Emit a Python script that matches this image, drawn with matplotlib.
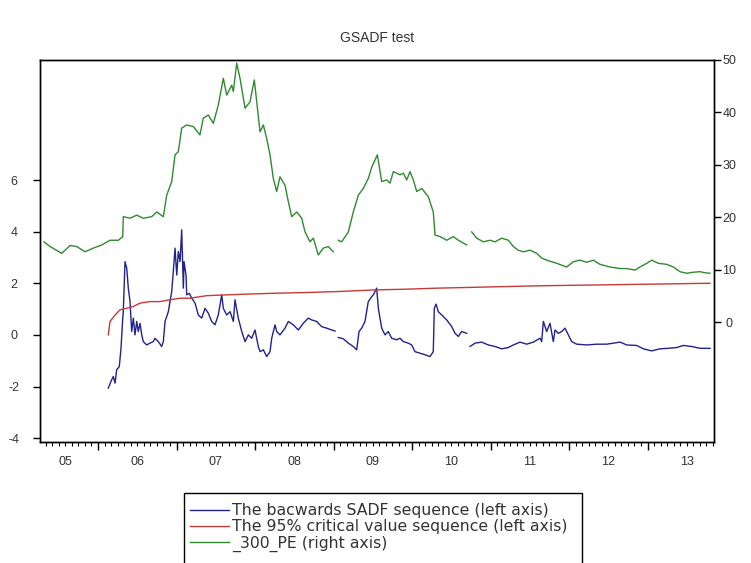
import numpy as np
import matplotlib
matplotlib.use("Agg")
import matplotlib.pyplot as plt
from matplotlib.patches import Rectangle
from matplotlib.ticker import FixedLocator, MultipleLocator, NullFormatter

plt.rcParams["font.family"] = ["Liberation Sans", "DejaVu Sans"]
plt.rcParams["axes.unicode_minus"] = False

nan = np.nan

# backwards SADF sequence (left axis), time in decimal years
bsadf_t = [2006.131, 2006.174, 2006.195, 2006.217, 2006.238, 2006.271, 2006.293, 2006.315,
           2006.322, 2006.344, 2006.366, 2006.386, 2006.408, 2006.429, 2006.450, 2006.471,
           2006.493, 2006.513, 2006.535, 2006.557, 2006.577, 2006.620, 2006.662, 2006.704,
           2006.726, 2006.768, 2006.811, 2006.832, 2006.854, 2006.896, 2006.939, 2006.959,
           2006.981, 2007.003, 2007.023, 2007.045, 2007.066, 2007.087, 2007.096, 2007.121,
           2007.130, 2007.163, 2007.194, 2007.236, 2007.278, 2007.321, 2007.363, 2007.405,
           2007.448, 2007.490, 2007.532, 2007.576, 2007.596, 2007.640, 2007.682, 2007.724,
           2007.745, 2007.787, 2007.831, 2007.873, 2007.915, 2007.958, 2008.000, 2008.042,
           2008.064, 2008.106, 2008.149, 2008.191, 2008.213, 2008.255, 2008.276, 2008.318,
           2008.382, 2008.424, 2008.488, 2008.552, 2008.615, 2008.679, 2008.722, 2008.785,
           2008.849, 2008.913, 2008.977, 2009.019, 2009.040, 2009.061, 2009.125, 2009.189,
           2009.252, 2009.295, 2009.325, 2009.359, 2009.401, 2009.443, 2009.486, 2009.507,
           2009.550, 2009.571, 2009.614, 2009.656, 2009.698, 2009.741, 2009.805, 2009.847,
           2009.890, 2009.953, 2009.996, 2010.038, 2010.102, 2010.166, 2010.229, 2010.271,
           2010.284, 2010.306, 2010.335, 2010.378, 2010.442, 2010.506, 2010.548, 2010.590,
           2010.633, 2010.697, 2010.718, 2010.739, 2010.803, 2010.888, 2010.972, 2011.057,
           2011.143, 2011.227, 2011.291, 2011.376, 2011.461, 2011.545, 2011.631, 2011.652,
           2011.673, 2011.716, 2011.758, 2011.800, 2011.822, 2011.864, 2011.907, 2011.949,
           2011.991, 2012.034, 2012.098, 2012.226, 2012.353, 2012.480, 2012.650, 2012.735,
           2012.862, 2012.947, 2013.053, 2013.159, 2013.265, 2013.372, 2013.456, 2013.563,
           2013.669, 2013.796]
bsadf = [-2.06, -1.74, -1.61, -1.87, -1.35, -1.23, -0.52, 0.65,
         0.90, 2.84, 2.58, 1.81, 1.29, 0.13, 0.65, 0.00,
         0.52, 0.13, 0.45, 0.00, -0.26, -0.39, -0.32, -0.26,
         -0.13, -0.26, -0.45, -0.26, 0.52, 0.90, 1.68, 2.45,
         3.36, 2.32, 3.23, 2.84, 4.07, 1.81, 2.84, 2.32,
         1.55, 1.61, 1.42, 1.23, 0.77, 0.65, 1.03, 0.84,
         0.52, 0.39, 0.77, 1.55, 1.03, 0.77, 0.90, 0.52,
         1.36, 0.65, 0.13, -0.26, 0.00, -0.13, 0.19, -0.45,
         -0.65, -0.58, -0.84, -0.65, -0.13, 0.39, 0.13, 0.00,
         0.26, 0.52, 0.39, 0.19, 0.45, 0.65, 0.58, 0.52,
         0.32, 0.26, 0.19, 0.15, nan, -0.10, -0.15, -0.32,
         -0.45, -0.58, 0.13, 0.26, 0.52, 1.29, 1.48, 1.55,
         1.81, 1.03, 0.26, 0.00, 0.13, -0.13, -0.19, -0.13,
         -0.26, -0.32, -0.39, -0.65, -0.71, -0.77, -0.84, -0.65,
         1.03, 1.19, 0.90, 0.77, 0.58, 0.32, 0.06, -0.06,
         0.13, 0.06, nan, -0.45, -0.32, -0.28, -0.39, -0.45,
         -0.54, -0.49, -0.39, -0.28, -0.36, -0.28, -0.13, -0.26,
         0.52, 0.13, 0.45, -0.26, 0.19, 0.06, 0.13, 0.26,
         0.00, -0.26, -0.36, -0.39, -0.36, -0.36, -0.28, -0.39,
         -0.41, -0.54, -0.62, -0.54, -0.52, -0.49, -0.41, -0.45,
         -0.52, -0.52]

# 95% critical value sequence (left axis)
cv_t = [2006.131, 2006.153, 2006.217, 2006.280, 2006.366, 2006.450, 2006.535, 2006.662,
        2006.790, 2006.917, 2007.045, 2007.172, 2007.385, 2007.809, 2008.213, 2008.637,
        2009.057, 2009.503, 2009.911, 2010.315, 2010.739, 2011.159, 2011.589, 2012.013,
        2012.480, 2012.904, 2013.350, 2013.796]
cv95 = [0.00, 0.52, 0.77, 0.97, 1.03, 1.10, 1.23, 1.29,
        1.29, 1.36, 1.42, 1.42, 1.52, 1.57, 1.61, 1.64,
        1.68, 1.74, 1.77, 1.81, 1.84, 1.87, 1.90, 1.92,
        1.94, 1.96, 1.98, 2.00]

# _300_PE (right axis)
pe_t = [2005.312, 2005.389, 2005.538, 2005.643, 2005.729, 2005.834, 2005.940, 2006.047,
        2006.153, 2006.259, 2006.315, 2006.322, 2006.408, 2006.493, 2006.577, 2006.684,
        2006.748, 2006.832, 2006.875, 2006.939, 2006.981, 2007.023, 2007.066, 2007.130,
        2007.214, 2007.299, 2007.341, 2007.405, 2007.469, 2007.532, 2007.596, 2007.640,
        2007.703, 2007.724, 2007.767, 2007.809, 2007.873, 2007.936, 2007.991, 2008.022,
        2008.064, 2008.106, 2008.149, 2008.191, 2008.233, 2008.276, 2008.318, 2008.382,
        2008.424, 2008.467, 2008.531, 2008.595, 2008.637, 2008.701, 2008.743, 2008.806,
        2008.870, 2008.934, 2008.997, 2009.030, 2009.061, 2009.104, 2009.189, 2009.252,
        2009.316, 2009.380, 2009.443, 2009.486, 2009.558, 2009.614, 2009.678, 2009.720,
        2009.762, 2009.847, 2009.890, 2009.932, 2009.975, 2010.017, 2010.060, 2010.124,
        2010.208, 2010.271, 2010.293, 2010.357, 2010.442, 2010.526, 2010.590, 2010.697,
        2010.730, 2010.760, 2010.824, 2010.908, 2010.994, 2011.057, 2011.143, 2011.227,
        2011.291, 2011.354, 2011.418, 2011.503, 2011.589, 2011.652, 2011.716, 2011.843,
        2011.971, 2012.055, 2012.140, 2012.226, 2012.310, 2012.395, 2012.522, 2012.650,
        2012.735, 2012.841, 2012.904, 2012.990, 2013.053, 2013.138, 2013.245, 2013.329,
        2013.414, 2013.499, 2013.584, 2013.669, 2013.733, 2013.796]
pe = [15.3, 14.4, 13.1, 14.6, 14.4, 13.4, 14.1, 14.7,
      15.6, 15.6, 16.3, 20.1, 19.8, 20.4, 19.8, 20.1,
      21.0, 20.1, 24.2, 26.8, 31.9, 32.5, 37.0, 37.6,
      37.3, 35.7, 38.9, 39.5, 37.9, 41.4, 46.5, 43.3,
      45.2, 44.0, 49.4, 46.5, 40.8, 42.0, 46.2, 42.0,
      36.3, 37.6, 35.0, 31.9, 27.4, 24.9, 27.7, 26.1,
      23.0, 20.1, 21.0, 19.8, 17.2, 15.3, 16.0, 12.8,
      14.1, 14.4, 13.4, nan, 15.6, 15.3, 17.2, 21.0,
      24.2, 25.5, 27.4, 29.5, 31.9, 26.8, 27.1, 26.5,
      28.7, 28.1, 28.4, 27.1, 28.7, 27.1, 24.9, 25.5,
      23.9, 21.0, 16.6, 16.3, 15.6, 16.3, 15.6, 14.7,
      nan, 17.2, 16.0, 15.3, 15.6, 15.3, 16.0, 15.6,
      14.4, 13.7, 13.4, 13.7, 13.1, 12.2, 11.8, 11.2,
      10.5, 11.5, 11.8, 11.4, 11.8, 11.0, 10.5, 10.2,
      10.2, 9.9, 10.5, 11.2, 11.8, 11.2, 11.0, 10.5,
      9.6, 9.3, 9.5, 9.6, 9.4, 9.3]

years = list(range(2006, 2014))
year_labels = ["05", "06", "07", "08", "09", "10", "11", "12", "13"]
year_label_pos = [2005.59, 2006.5, 2007.5, 2008.5, 2009.5, 2010.5, 2011.5, 2012.5, 2013.5]
left_ticks = [-4, -2, 0, 2, 4, 6]
right_ticks = [0, 10, 20, 30, 40, 50]

BLUE = "#22228c"
RED = "#c83a36"
GREEN = "#2f8a2f"
TXT = "#333333"

fig = plt.figure(figsize=(7.51, 5.63), dpi=100)
ax = fig.add_axes([40 / 751, 1 - 442 / 563, 674 / 751, 382 / 563])
ax2 = ax.twinx()

l1, = ax.plot(bsadf_t, bsadf, color=BLUE, lw=1.0)
l2, = ax.plot(cv_t, cv95, color=RED, lw=1.0)
l3, = ax2.plot(pe_t, pe, color=GREEN, lw=1.0)

ax.set_xlim(2005.261, 2013.847)
ax.set_ylim(-4.15, 10.65)
ax2.set_ylim(-22.9, 50)

ax.yaxis.set_major_locator(FixedLocator(left_ticks))
ax2.yaxis.set_major_locator(FixedLocator(right_ticks))

# year boundaries as long ticks, months as short ones; labels sit mid-year
ax.xaxis.set_major_locator(FixedLocator(years))
ax.xaxis.set_minor_locator(MultipleLocator(1 / 12))
ax.xaxis.set_major_formatter(NullFormatter())
ax.tick_params(axis="x", which="major", direction="out", length=6, width=1)
ax.tick_params(axis="x", which="minor", direction="out", length=3, width=0.8)
for pos, lab in zip(year_label_pos, year_labels):
    ax.text(pos, -0.052, lab, transform=ax.get_xaxis_transform(),
            ha="center", va="center", fontsize=9, color=TXT)

# y tick labels are centred on a fixed column on each side
ax.tick_params(axis="y", direction="out", length=5, width=1, labelsize=9,
               labelcolor=TXT, pad=13.5)
ax2.tick_params(axis="y", direction="out", length=5, width=1, labelsize=9,
                labelcolor=TXT, pad=6)
for lab in ax.get_yticklabels() + ax2.get_yticklabels():
    lab.set_horizontalalignment("center")

for a in (ax, ax2):
    for s in a.spines.values():
        s.set_linewidth(1.0)
        s.set_color("black")

fig.text(377 / 751, 1 - 38 / 563, "GSADF test", ha="center", va="center",
         fontsize=10, color=TXT)

# legend box runs off the bottom edge of the figure
fig.add_artist(Rectangle((184 / 751, -0.05), (582 - 184) / 751, 0.05 + 1 - 493 / 563,
                         transform=fig.transFigure, fill=False, lw=1.0,
                         edgecolor="black"))
leg = ax.legend([l1, l2, l3],
                ["The bacwards SADF sequence (left axis)",
                 "The 95% critical value sequence (left axis)",
                 "300_PE (right axis)"],
                loc="upper left", bbox_to_anchor=(190 / 751, 1 - 503 / 563),
                bbox_transform=fig.transFigure, frameon=False,
                prop={"family": "DejaVu Sans", "size": 11.3},
                handlelength=2.5, handletextpad=0.2, labelspacing=0.08,
                borderpad=0, borderaxespad=0)
leg.get_texts()[2].set_text("_300_PE (right axis)")
for t in leg.get_texts():
    t.set_color(TXT)

fig.savefig("out.png", dpi=100)
